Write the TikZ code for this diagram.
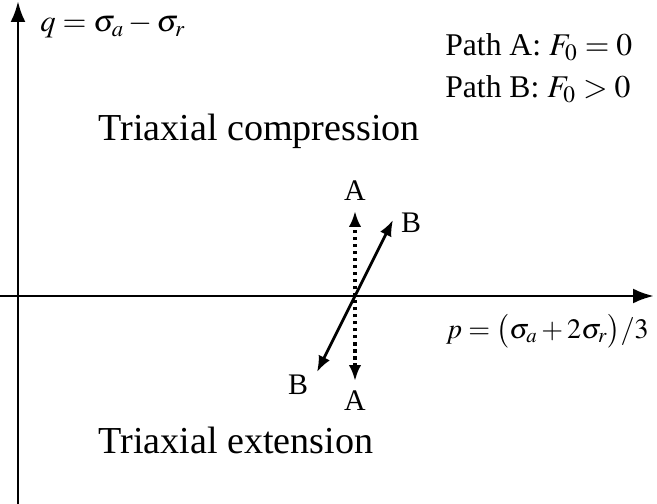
\documentclass[tikz,border=0pt]{standalone}
\usepackage{mathptmx}
\usepackage{fontspec}
\setmainfont{Liberation Serif}
\usetikzlibrary{arrows.meta}
\tikzset{
    axisline/.style={line width=1.7pt, -{Latex[length=4.2mm, width=3mm]}},
    pathB/.style={line width=1.6pt, {Latex[length=3.2mm, width=2.5mm]}-{Latex[length=3.2mm, width=2.5mm]}},
    pathA/.style={line width=2pt, dash pattern=on 2pt off 2pt, {Latex[length=3.2mm, width=2.5mm]}-{Latex[length=3.2mm, width=2.5mm]}},
    ptlabel/.style={font=\fontsize{17}{19}\selectfont, inner sep=0pt},
    zonelabel/.style={font=\fontsize{21.7}{25}\selectfont, inner sep=0pt, anchor=west},
    keylabel/.style={font=\fontsize{18}{20}\selectfont, inner sep=0pt, anchor=west},
    mathlabel/.style={font=\fontsize{17.5}{20}\selectfont, inner sep=0pt},
}
\begin{document}
\begin{tikzpicture}[x=0.02cm, y=-0.02cm]
    \useasboundingbox (0,0) rectangle (657,504);
    % axes
    \coordinate (ybot) at (18,504);
    \coordinate (ytop) at (18,1);
    \coordinate (xleft) at (0,296);
    \coordinate (xright) at (654,296);
    \draw[axisline] (ybot) -- (ytop);
    \draw[axisline] (xleft) -- (xright);
    % stress paths
    \coordinate (Abot) at (355,381);
    \coordinate (Atop) at (355,211);
    \coordinate (Bbot) at (317,372);
    \coordinate (Btop) at (393,220);
    \draw[pathA, line cap=butt] (Abot) -- (Atop);
    \draw[pathB] (Bbot) -- (Btop);
    % labels
    \node[ptlabel] (labAtop) at (355,191) {A};
    \node[ptlabel] (labAbot) at (355,401) {A};
    \node[ptlabel] (labBtop) at (411,223) {B};
    \node[ptlabel] (labBbot) at (298,385) {B};
    \node[mathlabel, anchor=west] (qlab) at (40,26) {$q=\sigma_a-\sigma_r$};
    \node[mathlabel, anchor=east, font=\fontsize{16}{18}\selectfont] (plab) at (649,331) {$p=\bigl(\sigma_a+2\sigma_r\bigr)/3$};
    \node[keylabel] (keyA) at (445,47) {Path A: $F_0=0$};
    \node[keylabel] (keyB) at (445,89) {Path B: $F_0>0$};
    \node[zonelabel] (comp) at (98,131) {Triaxial compression};
    \node[zonelabel] (ext) at (98,440) {Triaxial extension};
\end{tikzpicture}
\end{document}
